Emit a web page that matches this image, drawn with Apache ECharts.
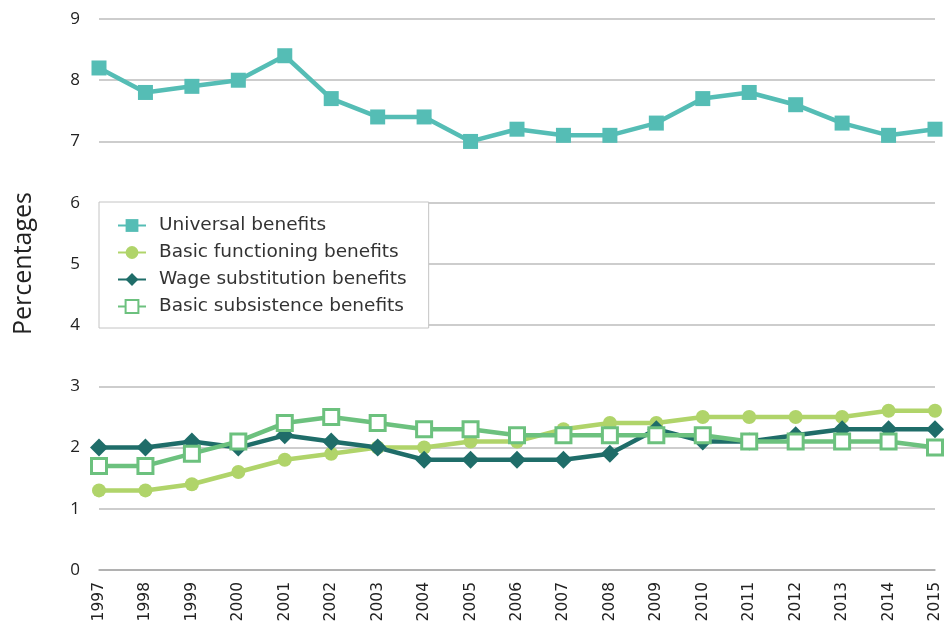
<!DOCTYPE html>
<html>
<head>
<meta charset="utf-8">
<style>
  html, body { margin: 0; padding: 0; background: #fff; }
  #chart { width: 944px; height: 632px; }
</style>
<script src="https://cdn.jsdelivr.net/npm/echarts@6/dist/echarts.min.js"></script>
</head>
<body>
<div id="chart"></div>
<script>
// Years on the category axis
const years = ['1997','1998','1999','2000','2001','2002','2003','2004','2005','2006',
               '2007','2008','2009','2010','2011','2012','2013','2014','2015'];

// Benefit shares, percentages
const universalBenefits   = [8.2, 7.8, 7.9, 8.0, 8.4, 7.7, 7.4, 7.4, 7.0, 7.2, 7.1, 7.1, 7.3, 7.7, 7.8, 7.6, 7.3, 7.1, 7.2];
const basicFunctioning    = [1.3, 1.3, 1.4, 1.6, 1.8, 1.9, 2.0, 2.0, 2.1, 2.1, 2.3, 2.4, 2.4, 2.5, 2.5, 2.5, 2.5, 2.6, 2.6];
const wageSubstitution    = [2.0, 2.0, 2.1, 2.0, 2.2, 2.1, 2.0, 1.8, 1.8, 1.8, 1.8, 1.9, 2.3, 2.1, 2.1, 2.2, 2.3, 2.3, 2.3];
const basicSubsistence    = [1.7, 1.7, 1.9, 2.1, 2.4, 2.5, 2.4, 2.3, 2.3, 2.2, 2.2, 2.2, 2.2, 2.2, 2.1, 2.1, 2.1, 2.1, 2.0];

// Y axis ticks
const yTicks = [0, 1, 2, 3, 4, 5, 6, 7, 8, 9];

const FONT = "'DejaVu Sans', sans-serif";
const LABEL_FONT = "'Open Sans', 'DejaVu Sans', sans-serif";

const chart = echarts.init(document.getElementById('chart'), null, { renderer: 'canvas' });

function line(name, data, color, symbol, size, hollow) {
  return {
    name: name,
    type: 'line',
    data: data,
    symbol: symbol,
    symbolSize: size,
    showAllSymbol: true,
    clip: false,
    lineStyle: { color: color, width: 4.5 },
    itemStyle: hollow
      ? { color: '#ffffff', borderColor: color, borderWidth: 3 }
      : { color: color, borderWidth: 0 },
    emphasis: { disabled: true },
    animation: false
  };
}

chart.setOption({
  animation: false,
  backgroundColor: '#ffffff',
  grid: { left: 99, right: 9, top: 19, bottom: 62, containLabel: false },
  graphic: [{
    type: 'text',
    x: 11,
    y: 335,
    rotation: Math.PI / 2,
    style: {
      text: 'Percentages',
      fontFamily: LABEL_FONT,
      fontSize: 25,
      fill: '#222222',
      textAlign: 'left',
      textVerticalAlign: 'top'
    }
  }],
  legend: {
    left: 99,
    top: 202,
    orient: 'vertical',
    padding: [14, 22, 12, 18],
    itemGap: 8,
    itemWidth: 28,
    itemHeight: 16,
    backgroundColor: '#ffffff',
    borderColor: '#c4c4c4',
    borderWidth: 1,
    textStyle: { fontFamily: FONT, fontSize: 18.5, color: '#333333', padding: [0, 0, 0, 8] },
    data: ['Universal benefits', 'Basic functioning benefits', 'Wage substitution benefits', 'Basic subsistence benefits']
  },
  xAxis: {
    type: 'category',
    data: years,
    boundaryGap: false,
    axisLine: { show: true, onZero: false, lineStyle: { color: '#a8a8a8', width: 1.5 } },
    axisTick: { show: false },
    axisLabel: {
      rotate: 90,
      margin: 12,
      interval: 0,
      fontFamily: FONT,
      fontSize: 15.5,
      color: '#222222'
    },
    splitLine: { show: false }
  },
  yAxis: {
    type: 'value',
    min: yTicks[0],
    max: yTicks[yTicks.length - 1],
    interval: 1,
    axisLine: { show: false },
    axisTick: { show: false },
    axisLabel: { margin: 19, fontFamily: LABEL_FONT, fontSize: 17, color: '#222222' },
    splitLine: {
      show: true,
      lineStyle: { color: '#bdbdbd', width: 1.5 }
    }
  },
  series: [
    line('Universal benefits', universalBenefits, '#55bdb5', 'rect', 15, false),
    line('Basic functioning benefits', basicFunctioning, '#b0d46a', 'circle', 14, false),
    line('Wage substitution benefits', wageSubstitution, '#1f6d69', 'diamond', 18, false),
    line('Basic subsistence benefits', basicSubsistence, '#6cc17e', 'rect', 15, true)
  ]
});
</script>
</body>
</html>
